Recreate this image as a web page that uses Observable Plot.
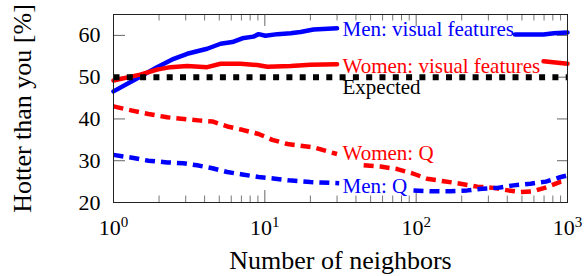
<!DOCTYPE html>
<html><head><meta charset="utf-8">
<script src="https://cdn.jsdelivr.net/npm/d3@7"></script>
<script src="https://cdn.jsdelivr.net/npm/@observablehq/plot@0.6"></script>
<style>body{margin:0;background:#fff}</style>
</head><body><div id="chart"></div>
<script>
// ---- data ----
const xTicks = [1, 10, 100, 1000];
const xMinor = [2,3,4,5,6,7,8,9,20,30,40,50,60,70,80,90,200,300,400,500,600,700,800,900];
const yTicks = [20, 30, 40, 50, 60];
const xLabel = "Number of neighbors";
const yLabel = "Hotter than you [%]";

const menVisX = [1,1.5,1.94,2.5,3.07,4.16,5.1,6.1,7.1,8.4,9.1,10.1,12.1,14.8,17.2,21,30,100,450,695,812,1000];
const menVisY = [46.6,50.1,52.4,54.4,55.6,56.8,58.0,58.4,59.3,59.7,60.3,59.9,60.3,60.5,60.8,61.4,61.7,null,60.2,60.2,60.5,60.7];

const womenVisX = [1,1.5,1.94,2.38,3.07,4.16,5.1,6.9,8.9,10.4,14.8,20,30,100,695,1000];
const womenVisY = [49.2,50.6,51.8,52.4,52.7,52.4,53.2,53.2,52.9,52.5,52.7,53.0,53.1,null,53.8,53.2];

const expectedX = [1, 1000];
const expectedY = [50, 50];

const womenQX = [1,1.33,1.7,2.26,3.07,3.76,4.5,5.65,7.1,9.1,11.2,14.1,21,30,38,45,58,75,94,118,152,196,254,325,405,490,595,735,905,1000];
const womenQY = [43.0,42.0,41.2,40.4,39.9,39.6,39.4,38.2,37.4,36.4,35.0,34.0,33.2,31.6,null,28.9,28.6,28.0,27.0,25.7,25.1,24.5,23.8,23.5,22.9,22.5,22.7,23.7,25.0,25.3];

const menQX = [1,1.33,1.7,2.26,2.9,3.57,4.5,5.65,7.1,9.1,11.7,14.4,20,31,60,96,124,169,218,272,345,440,570,720,905,1000];
const menQY = [31.4,30.7,30.0,29.6,29.4,28.9,28.2,27.3,26.7,26.1,25.7,25.3,24.9,24.6,null,22.9,22.7,22.7,22.9,23.3,23.5,24.1,24.5,25.0,26.1,26.5];

const labelText = ["Men: visual features","Women: visual features","Expected","Women: Q","Men: Q"];
const labelX = [32.6, 32.6, 32.6, 32.6, 32.6];
const labelY = [61.5, 52.7, 47.5, 31.75, 24.0];
const labelColor = ["#0000ff","#ff0000","#000000","#ff0000","#0000ff"];

// ---- layout ----
const W = 585, H = 276, mL = 113, mR = 18, mT = 14, mB = 74;
const fw = W - mL - mR, fh = H - mT - mB;
const series = (xs, ys) => xs.map((x, i) => ({x, y: ys[i]}));
const labels = labelText.map((t, i) => ({t, x: labelX[i], y: labelY[i], c: labelColor[i]}));

const chart = Plot.plot({
  width: W, height: H,
  marginLeft: mL, marginRight: mR, marginTop: mT, marginBottom: mB,
  style: {fontFamily: "'Liberation Serif', serif", fontSize: "22px", background: "white", color: "black"},
  x: {type: "log", domain: [1, 1000]},
  y: {domain: [20, 65]},
  marks: [
    Plot.tickX(xTicks, {x: d => d, insetTop: fh - 12, stroke: "#666"}),
    Plot.tickX(xTicks, {x: d => d, insetBottom: fh - 12, stroke: "#666"}),
    Plot.tickX(xMinor, {x: d => d, insetTop: fh - 6.5, stroke: "#777"}),
    Plot.tickX(xMinor, {x: d => d, insetBottom: fh - 6.5, stroke: "#777"}),
    Plot.tickY(yTicks, {y: d => d, insetRight: fw - 12, stroke: "#666"}),
    Plot.tickY(yTicks, {y: d => d, insetLeft: fw - 10, stroke: "#666"}),
    Plot.line(series(menVisX, menVisY), {x: "x", y: "y", stroke: "#0000ff", strokeWidth: 4.5}),
    Plot.line(series(womenVisX, womenVisY), {x: "x", y: "y", stroke: "#ff0000", strokeWidth: 4.5}),
    Plot.line(series(womenQX, womenQY), {x: "x", y: "y", stroke: "#ff0000", strokeWidth: 4.5, strokeDasharray: "10,6", strokeLinecap: "butt"}),
    Plot.line(series(menQX, menQY), {x: "x", y: "y", stroke: "#0000ff", strokeWidth: 4.5, strokeDasharray: "10,6", strokeLinecap: "butt"}),
    Plot.line(series(expectedX, expectedY), {x: "x", y: "y", stroke: "#000", strokeWidth: 6, strokeDasharray: "6,7.3", strokeLinecap: "butt"}),
    Plot.text(labels, {x: "x", y: "y", text: "t", fill: "c", textAnchor: "start", lineAnchor: "middle", fontSize: 21}),
    Plot.frame({stroke: "#222"}),
    Plot.axisX({ticks: xTicks, tickSize: 0, tickPadding: 17, tickFormat: d => String(Math.round(Math.log10(d))), label: null, fontSize: 22}),
    Plot.axisY({ticks: yTicks, tickSize: 0, tickPadding: 13, label: null, fontSize: 22}),
    Plot.text([xLabel], {frameAnchor: "bottom", dy: 58, textAnchor: "middle", lineAnchor: "middle", text: d => d, fontSize: 26}),
    Plot.text([yLabel], {frameAnchor: "left", dx: -91, rotate: -90, textAnchor: "middle", lineAnchor: "middle", text: d => d, fontSize: 26})
  ]
});

chart.querySelectorAll('g[aria-label="x-axis tick label"] text').forEach(t => {
  const e = t.textContent;
  t.textContent = "10";
  const ts = document.createElementNS("http://www.w3.org/2000/svg", "tspan");
  ts.setAttribute("dy", "-8");
  ts.setAttribute("font-size", "15");
  ts.textContent = e;
  t.appendChild(ts);
});

document.getElementById("chart").appendChild(chart);
</script>
</body></html>
